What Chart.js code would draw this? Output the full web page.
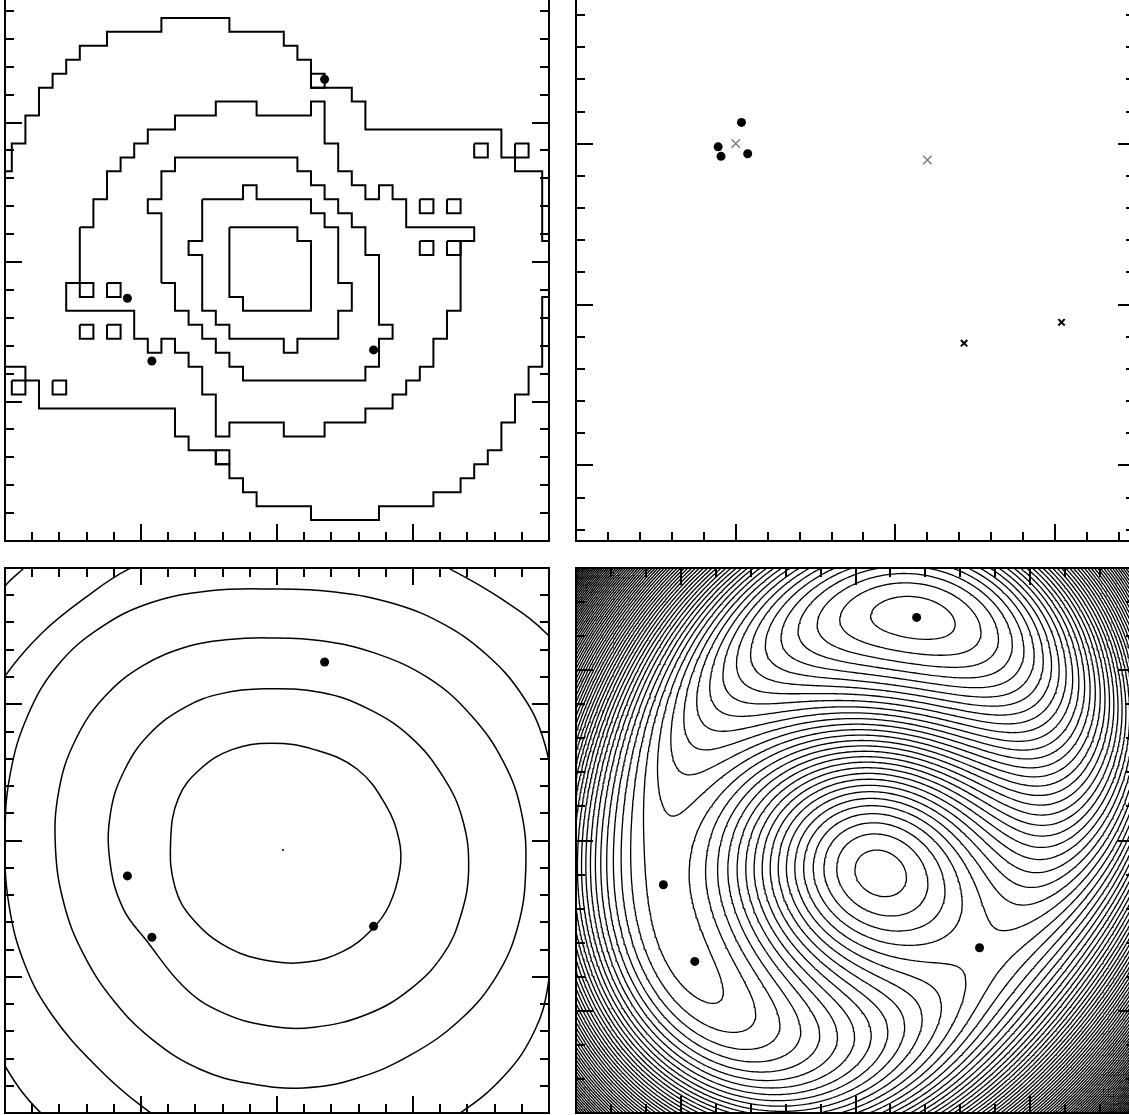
<!DOCTYPE html>
<html>
<head>
<meta charset="utf-8">
<title>Lens model: mass, source, potential, arrival time</title>
<script src="https://cdn.jsdelivr.net/npm/chart.js@4.4.1/dist/chart.umd.min.js"></script>
<style>
  html, body { margin: 0; padding: 0; background: #fff; }
  body { width: 1129px; height: 1115px; overflow: hidden; position: relative; }
  canvas { position: absolute; }
  #massMap { left: -5px; top: -27px; }
  #sourcePlane { left: 566px; top: -27px; }
  #potentialMap { left: -5px; top: 558px; }
  #arrivalMap { left: 566px; top: 558px; }
</style>
</head>
<body>
<canvas id="massMap" width="564" height="578"></canvas>
<canvas id="sourcePlane" width="579" height="578"></canvas>
<canvas id="potentialMap" width="564" height="565"></canvas>
<canvas id="arrivalMap" width="579" height="565"></canvas>
<script>
// ---------------- data ----------------

// lensed images (arcsec), drawn on the mass, potential and arrival-time panels
const imageX = [0.35, -1.10, -0.92, 0.71];
const imageY = [1.31, -0.26, -0.71, -0.63];

// source plane: images mapped back (dots), model sources (crosses)
const sourceDotX = [0.036, -0.110, -0.092, 0.075];
const sourceDotY = [0.133, -0.019, -0.078, -0.062];
const sourceGreyX = [0.00, 1.20];
const sourceGreyY = [0.002, -0.101];
const sourceBlackX = [1.43, 2.04];
const sourceBlackY = [-1.24, -1.11];

// lens centre marker on the potential panel
const lensCentre = [0.044, -0.07];

// mass map: pixel grid of 0.1 arcsec, vertices as [column, row] counted from top-left
const massCell = 0.1;
const massOrigin = [-2.05, 2.05];
const massContour1 = [[0,14],[1,14],[1,12],[2,12],[2,10],[3,10],[3,8],[4,8],[4,7],[5,7],[5,6],[6,6],[6,5],[8,5],[8,4],[12,4],[12,3],[17,3],[17,4],[21,4],[21,5],[22,5],[22,6],[23,6],[23,8],[26,8],[26,9],[27,9],[27,11],[37,11],[37,13],[38,13],[38,14],[40,14],[40,19],[41,19],[41,23],[40,23],[40,28],[39,28],[39,30],[38,30],[38,32],[37,32],[37,34],[36,34],[36,35],[35,35],[35,36],[34,36],[34,37],[32,37],[32,38],[28,38],[28,39],[23,39],[23,38],[19,38],[19,37],[18,37],[18,36],[17,36],[17,35],[16,35],[16,34],[14,34],[14,33],[13,33],[13,31],[3,31],[3,29],[2,29],[2,28],[0,28],[0,14]];
const massContour2 = [[6,18],[7,18],[7,16],[8,16],[8,14],[9,14],[9,13],[10,13],[10,12],[11,12],[11,11],[13,11],[13,10],[16,10],[16,9],[19,9],[19,10],[23,10],[23,9],[24,9],[24,12],[25,12],[25,14],[26,14],[26,15],[27,15],[27,16],[28,16],[28,15],[29,15],[29,16],[30,16],[30,18],[35,18],[35,19],[34,19],[34,24],[33,24],[33,26],[32,26],[32,28],[31,28],[31,29],[30,29],[30,30],[29,30],[29,31],[27,31],[27,32],[24,32],[24,33],[21,33],[21,32],[17,32],[17,33],[16,33],[16,30],[15,30],[15,28],[14,28],[14,27],[13,27],[13,26],[12,26],[12,27],[11,27],[11,26],[10,26],[10,24],[5,24],[5,22],[6,22],[6,18]];
const massContour3 = [[12,22],[12,17],[11,17],[11,16],[12,16],[12,14],[13,14],[13,13],[22,13],[22,14],[23,14],[23,15],[24,15],[24,16],[25,16],[25,17],[26,17],[26,18],[27,18],[27,20],[28,20],[28,25],[29,25],[29,26],[28,26],[28,28],[27,28],[27,29],[18,29],[18,28],[17,28],[17,27],[16,27],[16,26],[15,26],[15,25],[14,25],[14,24],[13,24],[13,22],[12,22]];
const massContour4 = [[15,16],[18,16],[18,15],[19,15],[19,16],[23,16],[23,17],[24,17],[24,18],[25,18],[25,22],[26,22],[26,24],[25,24],[25,26],[22,26],[22,27],[21,27],[21,26],[17,26],[17,25],[16,25],[16,24],[15,24],[15,20],[14,20],[14,19],[15,19],[15,16]];
const massContour5 = [[17,18],[22,18],[22,19],[23,19],[23,24],[18,24],[18,23],[17,23],[17,18]];
const massSinglePixels = [[23,7],[35,12],[38,12],[31,16],[33,16],[31,19],[33,19],[6,22],[8,22],[6,25],[8,25],[1,29],[4,29],[16,34]];

// potential contours (arcsec), read around each closed curve
const pot1X = [-0.041, 0.274, 0.588, 0.799, 0.899, 0.904, 0.826, 0.694, 0.485, 0.221, -0.041, -0.356, -0.618, -0.750, -0.782, -0.724, -0.566, -0.331];
const pot1Y = [0.714, 0.667, 0.525, 0.261, -0.001, -0.209, -0.473, -0.657, -0.814, -0.892, -0.887, -0.788, -0.578, -0.343, -0.001, 0.313, 0.523, 0.667];
const pot2X = [-0.093, 0.327, 0.668, 0.983, 1.220, 1.364, 1.409, 1.351, 1.220, 0.983, 0.668, 0.274, -0.067, -0.409, -0.676, -0.963, -1.131, -1.228, -1.223, -1.118, -0.934, -0.671, -0.409];
const pot2Y = [1.113, 1.086, 0.968, 0.759, 0.470, 0.156, -0.211, -0.552, -0.840, -1.089, -1.273, -1.370, -1.359, -1.260, -1.083, -0.730, -0.500, -0.159, 0.208, 0.523, 0.785, 0.981, 1.078];
const pot3X = [-0.067, 0.327, 0.721, 1.115, 1.430, 1.666, 1.797, 1.829, 1.771, 1.613, 1.351, 0.983, 0.589, 0.196, -0.199, -0.566, -0.907, -1.196, -1.420, -1.564, -1.629, -1.604, -1.485, -1.275, -0.986, -0.645, -0.356];
const pot3Y = [1.487, 1.466, 1.375, 1.191, 0.916, 0.575, 0.208, -0.211, -0.631, -0.997, -1.312, -1.574, -1.745, -1.816, -1.784, -1.679, -1.469, -1.181, -0.840, -0.473, -0.054, 0.366, 0.732, 1.047, 1.283, 1.427, 1.475];
const pot4X = [-0.051, 0.426, 0.868, 1.235, 1.544, 1.787, 1.949, 2.029, 2.051, 2.029, 1.993, 1.897, 1.676, 1.324, 0.904, 0.390, -0.125, -0.603, -1.007, -1.338, -1.654, -1.853, -1.971, -2.000, -1.963, -1.831, -1.610, -1.301, -0.934, -0.507];
const pot4Y = [1.846, 1.824, 1.736, 1.582, 1.361, 1.090, 0.774, 0.370, -0.070, -0.583, -1.061, -1.391, -1.721, -2.015, -2.235, -2.345, -2.345, -2.198, -1.941, -1.648, -1.281, -0.914, -0.473, 0.004, 0.481, 0.921, 1.288, 1.560, 1.743, 1.831];
const pot5X = [-2.000, -1.728, -1.412, -1.088, -0.566, 0.088, 0.757, 1.272, 1.640, 1.993, 2.301, 2.559, 2.669, 2.596, 2.375, 1.934, 1.346, 0.684, 0.022, -0.640, -1.228, -1.721, -2.000, -2.221, -2.368, -2.404, -2.331, -2.184];
const pot5Y = [1.207, 1.523, 1.780, 1.993, 2.206, 2.294, 2.242, 1.993, 1.780, 1.508, 1.105, 0.518, -0.180, -0.877, -1.538, -2.125, -2.529, -2.727, -2.771, -2.675, -2.418, -2.015, -1.655, -1.171, -0.657, -0.143, 0.444, 0.884];
const pot6X = [-2.184, -2.000, -1.868, -1.669];
const pot6Y = [1.618, 1.868, 1.993, 2.169];

// arrival-time surface: cored isothermal lens + shear fitted to the images and to the peak position
const arrivalPeak = [0.15, -0.18];
const lensCore = 1.1;
const lensSlope = 1.0;
const contourStepsSaddleToPeak = 17;

// axis ranges (arcsec), ticks every 0.2 with majors on whole numbers
const massRange = { x: [-2, 2], y: [-2, 2] };
const sourceRange = { x: [-1, 2.5], y: [-2.47, 1] };
const potentialRange = { x: [-2, 2], y: [-2, 2] };
const arrivalRange = { x: [-1.6, 1.6], y: [-1.6, 1.6] };
const tickStep = 0.2;

// ---------------- helpers ----------------

const frameTicks = {
  id: 'frameTicks',
  afterDatasetsDraw(chart) {
    const { ctx, chartArea: a, scales: { x, y } } = chart;
    ctx.save();
    ctx.strokeStyle = '#000';
    ctx.lineWidth = 2;
    ctx.strokeRect(a.left, a.top, a.right - a.left, a.bottom - a.top);
    ctx.beginPath();
    for (let k = Math.ceil(x.min / tickStep - 1e-6); k * tickStep <= x.max + 1e-6; k++) {
      const v = k * tickStep;
      const px = Math.round(x.getPixelForValue(v));
      if (px - a.left < 2 || a.right - px < 2) continue;
      const len = Math.abs(v - Math.round(v)) < 1e-6 ? 17 : 9;
      ctx.moveTo(px, a.bottom); ctx.lineTo(px, a.bottom - len);
      ctx.moveTo(px, a.top); ctx.lineTo(px, a.top + len);
    }
    for (let k = Math.ceil(y.min / tickStep - 1e-6); k * tickStep <= y.max + 1e-6; k++) {
      const v = k * tickStep;
      const py = Math.round(y.getPixelForValue(v));
      if (py - a.top < 2 || a.bottom - py < 2) continue;
      const len = Math.abs(v - Math.round(v)) < 1e-6 ? 17 : 9;
      ctx.moveTo(a.left, py); ctx.lineTo(a.left + len, py);
      ctx.moveTo(a.right, py); ctx.lineTo(a.right - len, py);
    }
    ctx.stroke();
    ctx.restore();
  }
};

function makePanel(id, range, datasets) {
  return new Chart(document.getElementById(id), {
    type: 'line',
    data: { datasets },
    options: {
      responsive: false,
      animation: false,
      events: [],
      layout: { padding: 10 },
      plugins: { legend: { display: false }, tooltip: { enabled: false } },
      scales: {
        x: { type: 'linear', min: range.x[0], max: range.x[1], display: false },
        y: { type: 'linear', min: range.y[0], max: range.y[1], display: false }
      }
    },
    plugins: [frameTicks]
  });
}

const lineBase = { borderColor: '#000', backgroundColor: '#000', pointRadius: 0, fill: false, showLine: true, clip: 0 };

function dots(xs, ys, radius) {
  return {
    data: xs.map((x, i) => ({ x, y: ys[i] })),
    showLine: false, pointRadius: radius, pointStyle: 'circle',
    pointBackgroundColor: '#000', pointBorderColor: '#000', pointBorderWidth: 0
  };
}

function crosses(xs, ys, radius, color, width) {
  return {
    data: xs.map((x, i) => ({ x, y: ys[i] })),
    showLine: false, pointRadius: radius, pointStyle: 'crossRot',
    pointBorderColor: color, pointBorderWidth: width
  };
}

function gridPoint(v) {
  return { x: massOrigin[0] + v[0] * massCell, y: massOrigin[1] - v[1] * massCell };
}

function gridPath(path) {
  return { ...lineBase, borderWidth: 2, tension: 0, data: path.map(gridPoint) };
}

function pixelBox(cell) {
  const [c, r] = cell;
  return gridPath([[c, r], [c + 1, r], [c + 1, r + 1], [c, r + 1], [c, r]]);
}

// closed smooth curve: wrap the ends so every visible piece has both neighbours
function closedCurve(xs, ys) {
  const n = xs.length;
  const order = [n - 1, ...xs.keys(), 0, 1];
  const data = order.map(i => ({ x: xs[i], y: ys[i] }));
  const last = data.length - 1;
  return {
    ...lineBase, borderWidth: 1.5, tension: 0.4, capBezierPoints: false, data,
    segment: {
      borderColor: ctx => (ctx.p0DataIndex === 0 || ctx.p1DataIndex === last) ? 'rgba(0,0,0,0)' : undefined
    }
  };
}

function openCurve(xs, ys) {
  return { ...lineBase, borderWidth: 1.5, tension: 0.4, capBezierPoints: false, data: xs.map((x, i) => ({ x, y: ys[i] })) };
}

// ---------- lens fit for the arrival-time surface ----------

function solveLinear(M, v) {
  const n = v.length;
  const a = M.map((row, i) => row.concat([v[i]]));
  for (let c = 0; c < n; c++) {
    let p = c;
    for (let r = c + 1; r < n; r++) if (Math.abs(a[r][c]) > Math.abs(a[p][c])) p = r;
    [a[c], a[p]] = [a[p], a[c]];
    for (let r = 0; r < n; r++) {
      if (r === c) continue;
      const f = a[r][c] / a[c][c];
      for (let k = c; k <= n; k++) a[r][k] -= f * a[c][k];
    }
  }
  return a.map((row, i) => row[n] / row[i]);
}

function arrivalTime(m, x, y) {
  const dx = x - m.cx, dy = y - m.cy;
  const psi = m.k * Math.pow(dx * dx + dy * dy + lensCore * lensCore, lensSlope / 2)
    + 0.5 * m.g1 * (dx * dx - dy * dy) + m.g2 * dx * dy;
  return 0.5 * ((x - m.bx) ** 2 + (y - m.by) ** 2) - psi;
}

// least squares for strength, shear and source at a fixed centre
function solveAt(cx, cy) {
  const A = [], rhs = [];
  imageX.forEach((ix, k) => {
    const dx = ix - cx, dy = imageY[k] - cy;
    const f = lensSlope * Math.pow(dx * dx + dy * dy + lensCore * lensCore, lensSlope / 2 - 1);
    A.push([dx * f, dx, dy, 1, 0]); rhs.push(ix);
    A.push([dy * f, -dy, dx, 0, 1]); rhs.push(imageY[k]);
  });
  const N = [0, 1, 2, 3, 4].map(p => [0, 1, 2, 3, 4].map(q => A.reduce((s, row) => s + row[p] * row[q], 0)));
  const t = [0, 1, 2, 3, 4].map(p => A.reduce((s, row, m) => s + row[p] * rhs[m], 0));
  const u = solveLinear(N, t);
  const res = A.reduce((s, row, m) => {
    const e = row.reduce((z, val, q) => z + val * u[q], 0) - rhs[m];
    return s + e * e;
  }, 0);
  return { cx, cy, k: u[0], g1: u[1], g2: u[2], bx: u[3], by: u[4], res };
}

function findPeak(m) {
  let best = -Infinity, at = [m.cx, m.cy];
  for (let i = -25; i <= 25; i++) {
    for (let j = -25; j <= 25; j++) {
      const x = m.cx + i * 0.02, y = m.cy + j * 0.02;
      const v = arrivalTime(m, x, y);
      if (v > best) { best = v; at = [x, y]; }
    }
  }
  return at;
}

function fitLens() {
  let best = null;
  for (let i = -12; i <= 12; i++) {
    for (let j = -12; j <= 12; j++) {
      const m = solveAt(arrivalPeak[0] + i * 0.02, arrivalPeak[1] + j * 0.02);
      if (!(m.k > 0)) continue;
      const p = findPeak(m);
      m.peak = p;
      m.score = m.res / 0.005 + ((p[0] - arrivalPeak[0]) ** 2 + (p[1] - arrivalPeak[1]) ** 2) / 0.0025;
      if (!best || m.score < best.score) best = m;
    }
  }
  return best;
}

// marching squares, every crossing segment appended with a gap after it
function contourLines(m) {
  const n = 241, lo = -1.7, hi = 1.7, h = (hi - lo) / (n - 1);
  const g = [];
  let gMin = Infinity, gMax = -Infinity;
  for (let j = 0; j < n; j++) {
    const row = [];
    for (let i = 0; i < n; i++) {
      const v = arrivalTime(m, lo + i * h, lo + j * h);
      row.push(v);
      gMin = Math.min(gMin, v); gMax = Math.max(gMax, v);
    }
    g.push(row);
  }
  const peak = arrivalTime(m, m.peak[0], m.peak[1]);
  const saddle = arrivalTime(m, imageX[1], imageY[1]);
  const step = (peak - saddle) / contourStepsSaddleToPeak;
  const out = [];
  const gap = { x: null, y: null };
  const kLo = Math.floor((gMin - saddle) / step) - 1, kHi = Math.ceil((gMax - saddle) / step) + 1;
  for (let k = kLo; k <= kHi; k++) {
    const L = saddle + (k + 0.5) * step;
    if (L < gMin || L > gMax) continue;
    for (let j = 0; j < n - 1; j++) {
      for (let i = 0; i < n - 1; i++) {
        const v0 = g[j][i], v1 = g[j][i + 1], v2 = g[j + 1][i + 1], v3 = g[j + 1][i];
        const idx = (v0 > L ? 1 : 0) | (v1 > L ? 2 : 0) | (v2 > L ? 4 : 0) | (v3 > L ? 8 : 0);
        if (idx === 0 || idx === 15) continue;
        const x0 = lo + i * h, y0 = lo + j * h;
        const e = [
          () => ({ x: x0 + h * (L - v0) / (v1 - v0), y: y0 }),
          () => ({ x: x0 + h, y: y0 + h * (L - v1) / (v2 - v1) }),
          () => ({ x: x0 + h * (L - v3) / (v2 - v3), y: y0 + h }),
          () => ({ x: x0, y: y0 + h * (L - v0) / (v3 - v0) })
        ];
        const centreHigh = (v0 + v1 + v2 + v3) / 4 > L;
        let pairs;
        switch (idx) {
          case 1: case 14: pairs = [[3, 0]]; break;
          case 2: case 13: pairs = [[0, 1]]; break;
          case 4: case 11: pairs = [[1, 2]]; break;
          case 8: case 7: pairs = [[2, 3]]; break;
          case 3: case 12: pairs = [[3, 1]]; break;
          case 6: case 9: pairs = [[0, 2]]; break;
          case 5: pairs = centreHigh ? [[0, 1], [2, 3]] : [[3, 0], [1, 2]]; break;
          case 10: pairs = centreHigh ? [[3, 0], [1, 2]] : [[0, 1], [2, 3]]; break;
        }
        for (const [a, b] of pairs) out.push(e[a](), e[b](), gap);
      }
    }
  }
  return out;
}

// ---------------- panels ----------------

makePanel('massMap', massRange, [
  gridPath(massContour1),
  gridPath(massContour2),
  gridPath(massContour3),
  gridPath(massContour4),
  gridPath(massContour5),
  ...massSinglePixels.map(pixelBox),
  dots(imageX, imageY, 4.5)
]);

makePanel('sourcePlane', sourceRange, [
  crosses(sourceGreyX, sourceGreyY, 6, '#777', 1.3),
  crosses(sourceBlackX, sourceBlackY, 4.5, '#000', 2),
  dots(sourceDotX, sourceDotY, 4.5)
]);

makePanel('potentialMap', potentialRange, [
  closedCurve(pot1X, pot1Y),
  closedCurve(pot2X, pot2Y),
  closedCurve(pot3X, pot3Y),
  closedCurve(pot4X, pot4Y),
  closedCurve(pot5X, pot5Y),
  openCurve(pot6X, pot6Y),
  dots(imageX, imageY, 4.5),
  dots([lensCentre[0]], [lensCentre[1]], 1)
]);

const lensModel = fitLens();

makePanel('arrivalMap', arrivalRange, [
  { ...lineBase, borderWidth: 1.3, tension: 0, spanGaps: false, data: contourLines(lensModel) },
  dots(imageX, imageY, 4.5)
]);
</script>
</body>
</html>
